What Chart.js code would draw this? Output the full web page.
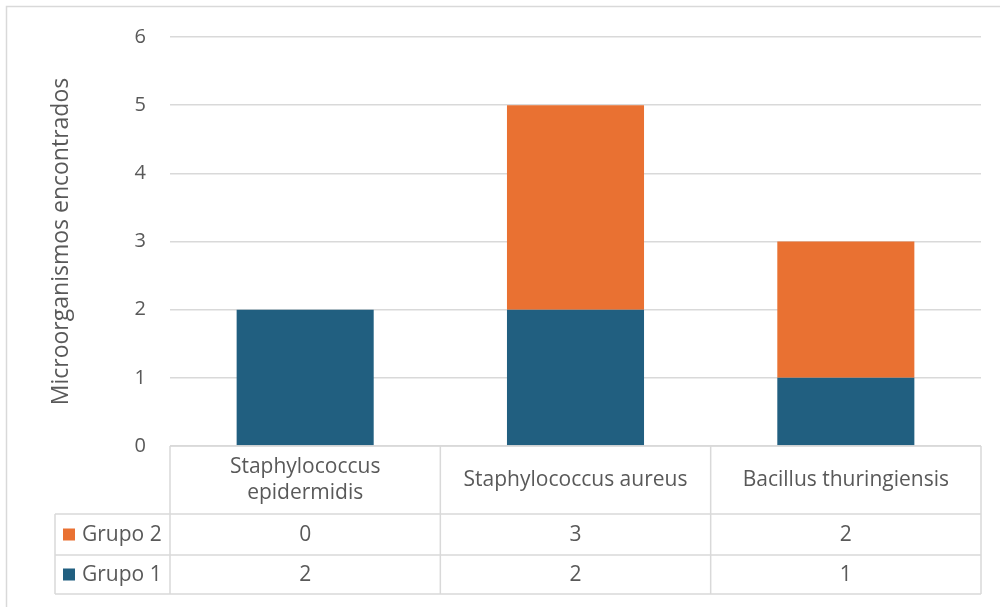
<!DOCTYPE html>
<html>
<head>
<meta charset="utf-8">
<script src="https://cdn.jsdelivr.net/npm/chart.js@4/dist/chart.umd.min.js"></script>
<style>
  html, body { margin: 0; padding: 0; background: #ffffff; }
  #wrap { position: relative; width: 1000px; height: 607px; }
  canvas { display: block; }
</style>
</head>
<body>
<div id="wrap"><canvas id="chart" width="1000" height="607"></canvas></div>
<script>
// Categories (x axis / table columns)
const categories = [['Staphylococcus', 'epidermidis'], 'Staphylococcus aureus', 'Bacillus thuringiensis'];
// Series values
const grupo1 = [2, 2, 1];
const grupo2 = [0, 3, 2];
// Y axis ticks
const yTicks = [0, 1, 2, 3, 4, 5, 6];
const yTitle = 'Microorganismos encontrados';
const seriesNames = ['Grupo 1', 'Grupo 2'];

const BLUE = '#215f80';
const ORANGE = '#e97132';
const GRID = '#d9d9d9';
const TEXT = '#595959';
const FONT = "'Open Sans', 'Liberation Sans', sans-serif";

// Draws the data table under the plot, aligned to the x scale columns
const dataTable = {
  id: 'dataTable',
  beforeDraw(chart) {
    const ctx = chart.ctx;
    ctx.save();
    ctx.strokeStyle = GRID;
    ctx.lineWidth = 1.5;
    // frame of the chart
    ctx.beginPath();
    ctx.moveTo(6.5, 607);
    ctx.lineTo(6.5, 6.5);
    ctx.lineTo(1000, 6.5);
    ctx.stroke();
    ctx.restore();
  },
  afterDraw(chart) {
    const ctx = chart.ctx;
    const area = chart.chartArea;
    const xs = chart.scales.x;
    const top = chart.scales.y.getPixelForValue(0);
    const headerH = 68, rowH = [41, 39];
    const r1 = top + headerH, r2 = r1 + rowH[0], r3 = r2 + rowH[1];
    const legendLeft = 55;
    const n = categories.length;
    const colW = (area.right - area.left) / n;

    ctx.save();
    ctx.strokeStyle = GRID;
    ctx.lineWidth = 1.5;
    ctx.beginPath();
    // horizontal rules
    ctx.moveTo(area.left, top); ctx.lineTo(area.right, top);
    [r1, r2, r3].forEach(y => { ctx.moveTo(legendLeft, y); ctx.lineTo(area.right, y); });
    // vertical rules
    for (let i = 0; i <= n; i++) {
      const x = area.left + i * colW;
      ctx.moveTo(x, top); ctx.lineTo(x, r3);
    }
    ctx.moveTo(legendLeft, r1); ctx.lineTo(legendLeft, r3);
    ctx.stroke();

    ctx.fillStyle = TEXT;
    ctx.font = '21px ' + FONT;
    ctx.textAlign = 'center';
    ctx.textBaseline = 'middle';
    // column headers
    categories.forEach((c, i) => {
      const cx = xs.getPixelForValue(i);
      const lines = Array.isArray(c) ? c : [c];
      const lh = 26;
      const y0 = top + headerH / 2 - (lines.length - 1) * lh / 2;
      lines.forEach((t, k) => ctx.fillText(t, cx, y0 + k * lh));
    });

    // rows: Grupo 2 first, then Grupo 1
    const rows = [
      { name: seriesNames[1], color: ORANGE, vals: grupo2, y: (r1 + r2) / 2 },
      { name: seriesNames[0], color: BLUE, vals: grupo1, y: (r2 + r3) / 2 }
    ];
    rows.forEach(r => {
      ctx.fillStyle = r.color;
      ctx.fillRect(63, r.y - 6, 12, 12);
      ctx.fillStyle = TEXT;
      ctx.textAlign = 'left';
      ctx.fillText(r.name, 82, r.y + 1);
      ctx.textAlign = 'center';
      r.vals.forEach((v, i) => ctx.fillText(String(v), xs.getPixelForValue(i), r.y + 1));
    });
    ctx.restore();
  }
};

new Chart(document.getElementById('chart'), {
  type: 'bar',
  data: {
    labels: categories.map(c => Array.isArray(c) ? c.join(' ') : c),
    datasets: [
      { label: seriesNames[0], data: grupo1, backgroundColor: BLUE, borderWidth: 0 },
      { label: seriesNames[1], data: grupo2, backgroundColor: ORANGE, borderWidth: 0 }
    ]
  },
  options: {
    responsive: false,
    animation: false,
    layout: { padding: { left: 0, top: 37, right: 19, bottom: 0 } },
    plugins: { legend: { display: false }, tooltip: { enabled: false } },
    datasets: { bar: { categoryPercentage: 1, barPercentage: 0.507 } },
    scales: {
      x: {
        stacked: true,
        ticks: { display: false },
        grid: { display: false },
        border: { display: false },
        afterFit(s) { s.height = 161; }
      },
      y: {
        stacked: true,
        min: yTicks[0],
        max: yTicks[yTicks.length - 1],
        afterBuildTicks(s) { s.ticks = yTicks.map(v => ({ value: v })); },
        afterFit(s) { s.width = 170; },
        grid: { color: GRID, lineWidth: 1.5, drawTicks: false },
        border: { display: false },
        ticks: { padding: 24, color: TEXT, font: { family: FONT, size: 20 } },
        title: {
          display: true,
          text: yTitle,
          color: TEXT,
          font: { family: FONT, size: 23 },
          padding: { top: 48, bottom: 0 }
        }
      }
    }
  },
  plugins: [dataTable]
});
</script>
</body>
</html>
